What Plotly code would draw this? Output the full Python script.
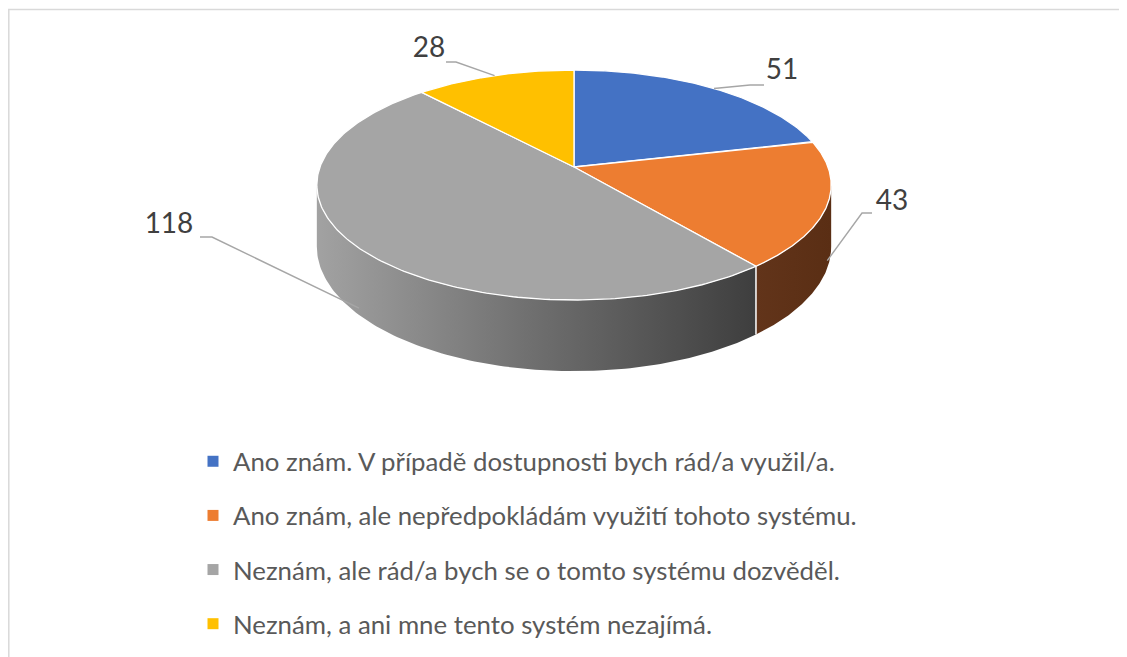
import numpy as np
import plotly.graph_objects as go

# ---------------- data ----------------
categories = [
    "Ano znám. V případě dostupnosti bych rád/a využil/a.",
    "Ano znám, ale nepředpokládám využití tohoto systému.",
    "Neznám, ale rád/a bych se o tomto systému dozvěděl.",
    "Neznám, a ani mne tento systém nezajímá.",
]
values = [51, 43, 118, 28]

# ---------------- style ----------------
top_colors = ["#4472C4", "#ED7D31", "#A5A5A5", "#FFC000"]
side_scales = [
    [[0, "#2F4F88"], [1, "#22396A"]],
    [[0, "#62341A"], [1, "#5A2E14"]],
    [[0, "#A2A2A2"], [0.5, "#6E6E6E"], [1, "#3E3E3E"]],
    [[0, "#B38700"], [1, "#8F6C00"]],
]
# projection of the tilted disc (window pixel space)
CX, CY, RX, RY, K, H = 574, 167, 254, 112.2, 0.1565, 60
# label text centres and leader elbows (layout only)
label_pos = [(782, 72), (892, 203), (169, 226), (429, 50)]
elbow_pos = [[(764, 85), (750, 85)], [(872, 213), (862, 213)],
             [(200, 237), (212, 237)], [(446, 62), (456, 62)]]
anchor_drop = [0.0, 0.88, 0.9, 0.0]

# page body has an 8px margin: the figure occupies window pixels 8..1127 / 8..657
OFF = 8
W, Hh = 1127 - OFF, 657 - OFF


def proj(theta_deg, drop=0.0):
    t = np.radians(theta_deg)
    u, v = np.sin(t), -np.cos(t)
    f = 1.0 / (1.0 - K * v)
    return CX + RX * u * f, CY + RY * v * f + drop * H * f


total = float(sum(values))
bounds = np.concatenate([[0], np.cumsum(values)]) / total * 360.0
vis_a = np.degrees(np.arccos(-K))
vis_b = 360.0 - vis_a

fig = go.Figure()

# side walls
for i in range(len(values)):
    a1, a2 = max(bounds[i], vis_a), min(bounds[i + 1], vis_b)
    if a2 <= a1:
        continue
    th = np.linspace(a1, a2, 120)
    xt, yt = proj(th)
    xb, yb = proj(th[::-1], 1.0)
    fig.add_trace(go.Scatter(
        x=np.concatenate([xt, xb]), y=np.concatenate([yt, yb]),
        mode="lines", fill="toself", line=dict(width=0),
        fillgradient=dict(type="horizontal", colorscale=side_scales[i]),
        showlegend=False, hoverinfo="skip"))

# white separators on the walls
for b in bounds:
    if vis_a < b < vis_b:
        x0, y0 = proj(b)
        x1, y1 = proj(b, 1.0)
        fig.add_trace(go.Scatter(x=[x0, x1], y=[y0, y1], mode="lines",
                                 line=dict(color="white", width=1.5),
                                 showlegend=False, hoverinfo="skip"))

# top faces
for i in range(len(values)):
    th = np.linspace(bounds[i], bounds[i + 1], 200)
    xa, ya = proj(th)
    fig.add_trace(go.Scatter(
        x=np.concatenate([[CX], xa, [CX]]), y=np.concatenate([[CY], ya, [CY]]),
        mode="lines", fill="toself", fillcolor=top_colors[i],
        line=dict(color="white", width=1.3),
        name=categories[i], showlegend=False, hoverinfo="skip"))

# leader lines and value labels
for i, v in enumerate(values):
    mid = (bounds[i] + bounds[i + 1]) / 2
    ax, ay = proj(mid, anchor_drop[i])
    pts = [(ax, ay), elbow_pos[i][1], elbow_pos[i][0]]
    fig.add_trace(go.Scatter(x=[p[0] for p in pts], y=[p[1] for p in pts],
                             mode="lines", line=dict(color="#A6A6A6", width=1.4),
                             showlegend=False, hoverinfo="skip"))
fig.add_trace(go.Scatter(
    x=[p[0] for p in label_pos], y=[p[1] for p in label_pos],
    mode="text", text=[str(v) for v in values],
    textfont=dict(family="Lato", size=28, color="#404040"),
    showlegend=False, hoverinfo="skip"))

# legend entries
for i, c in enumerate(categories):
    fig.add_trace(go.Scatter(
        x=[None], y=[None], mode="markers", name=c, legendgroup=f"g{i}",
        marker=dict(symbol="square", size=11, color=top_colors[i]),
        hoverinfo="skip"))

fig.update_layout(
    width=W, height=Hh,
    margin=dict(l=0, r=0, t=0, b=0),
    paper_bgcolor="white", plot_bgcolor="white",
    xaxis=dict(range=[OFF, 1127], visible=False, fixedrange=True),
    yaxis=dict(range=[657, OFF], visible=False, fixedrange=True),
    legend=dict(x=(193 - OFF) / W, y=1 - (438 - OFF) / Hh,
                xanchor="left", yanchor="top",
                font=dict(family="Lato", size=25.8, color="#595959"),
                tracegroupgap=17.6, itemwidth=30, bgcolor="rgba(0,0,0,0)"),
    shapes=[dict(type="rect", xref="x", yref="y", x0=8.8, y0=9.5, x1=1150, y1=680,
                 line=dict(color="#D9D9D9", width=1.5), layer="below")],
)

fig.write_html("out.html")
